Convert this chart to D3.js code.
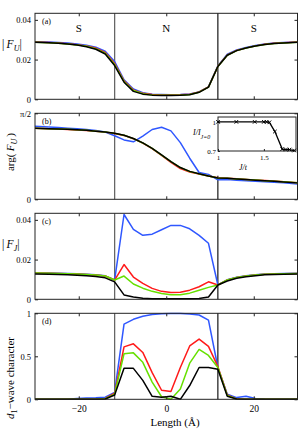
<!DOCTYPE html>
<html>
<head>
<meta charset="utf-8">
<script src="https://cdn.jsdelivr.net/npm/d3@7"></script>
<style>
  body { margin: 0; background: #fff; }
  text { font-family: "Liberation Serif", "DejaVu Serif", serif; fill: #000; }
</style>
</head>
<body>
<svg id="chart" width="304" height="434"></svg>
<script>
// site positions along the junction (Angstrom)
const sites = [-30, -26.82, -24.67, -22.53, -20.38, -18.24, -16.09, -13.95, -11.8, -9.65, -7.51, -5.36, -3.22, -1.07,
  1.07, 3.22, 5.36, 7.51, 9.65, 11.8, 13.95, 16.09, 18.24, 20.38, 22.53, 24.67, 26.82, 30];

// (a) |F_U|
const fuBlue  = [0.0290, 0.0288, 0.0286, 0.0283, 0.0278, 0.0272, 0.0262, 0.0242, 0.0190, 0.0098, 0.0052, 0.0033, 0.0026, 0.0024,
  0.0023, 0.0024, 0.0027, 0.0037, 0.0063, 0.0168, 0.0227, 0.0248, 0.0261, 0.0271, 0.0279, 0.0283, 0.0286, 0.0289];
const fuRed   = [0.0288, 0.0286, 0.0283, 0.0280, 0.0275, 0.0268, 0.0258, 0.0236, 0.0180, 0.0093, 0.0047, 0.0030, 0.0024, 0.0022,
  0.0022, 0.0023, 0.0026, 0.0037, 0.0062, 0.0166, 0.0223, 0.0246, 0.0259, 0.0269, 0.0277, 0.0282, 0.0285, 0.0288];
const fuGreen = [0.0287, 0.0285, 0.0282, 0.0279, 0.0274, 0.0267, 0.0255, 0.0232, 0.0175, 0.0090, 0.0044, 0.0028, 0.0022, 0.0020,
  0.0020, 0.0021, 0.0024, 0.0036, 0.0061, 0.0165, 0.0222, 0.0245, 0.0258, 0.0268, 0.0276, 0.0281, 0.0284, 0.0287];
const fuBlack = [0.0287, 0.0285, 0.0282, 0.0278, 0.0273, 0.0265, 0.0252, 0.0228, 0.0170, 0.0086, 0.0040, 0.0026, 0.0021, 0.0019,
  0.0019, 0.0020, 0.0023, 0.0035, 0.0061, 0.0165, 0.0222, 0.0245, 0.0258, 0.0268, 0.0276, 0.0281, 0.0284, 0.0287];

// (b) arg(F_U)
const argBlue  = [1.333, 1.32, 1.31, 1.30, 1.29, 1.275, 1.255, 1.23, 1.16, 1.085, 1.05, 1.155, 1.275, 1.315,
  1.25, 1.035, 0.75, 0.49, 0.455, 0.355, 0.36, 0.35, 0.34, 0.33, 0.32, 0.31, 0.30, 0.28];
const argRed   = [1.297, 1.287, 1.282, 1.277, 1.267, 1.257, 1.242, 1.227, 1.202, 1.167, 1.107, 1.027, 0.925, 0.80,
  0.675, 0.562, 0.497, 0.46, 0.425, 0.392, 0.386, 0.375, 0.363, 0.353, 0.343, 0.333, 0.321, 0.303];
const argGreen = [1.299, 1.289, 1.284, 1.279, 1.269, 1.259, 1.244, 1.229, 1.204, 1.169, 1.109, 1.029, 0.929, 0.808,
  0.688, 0.578, 0.508, 0.464, 0.425, 0.39, 0.384, 0.373, 0.361, 0.351, 0.341, 0.331, 0.319, 0.301];
const argBlack = [1.30, 1.29, 1.285, 1.28, 1.27, 1.26, 1.245, 1.23, 1.205, 1.17, 1.11, 1.03, 0.93, 0.81,
  0.69, 0.58, 0.51, 0.465, 0.425, 0.39, 0.383, 0.372, 0.36, 0.35, 0.34, 0.33, 0.318, 0.30];

// (c) |F_J|
const fjBlue  = [0.0133, 0.0132, 0.0131, 0.0130, 0.0129, 0.0126, 0.0123, 0.0118, 0.0097, 0.0427, 0.0352, 0.0322, 0.0328, 0.0350,
  0.0372, 0.0372, 0.0355, 0.0322, 0.0282, 0.0072, 0.0098, 0.0111, 0.0118, 0.0123, 0.0127, 0.0129, 0.0130, 0.0131];
const fjRed   = [0.0132, 0.0131, 0.0130, 0.0129, 0.0128, 0.0125, 0.0122, 0.0117, 0.0097, 0.0175, 0.0112, 0.0080, 0.0055, 0.0040,
  0.0034, 0.0035, 0.0046, 0.0063, 0.0088, 0.0072, 0.0097, 0.0110, 0.0117, 0.0122, 0.0126, 0.0128, 0.0129, 0.0130];
const fjGreen = [0.0132, 0.0131, 0.0130, 0.0129, 0.0128, 0.0125, 0.0122, 0.0117, 0.0097, 0.0117, 0.0077, 0.0056, 0.0040, 0.0029,
  0.0023, 0.0023, 0.0031, 0.0046, 0.0060, 0.0072, 0.0097, 0.0110, 0.0117, 0.0122, 0.0126, 0.0128, 0.0129, 0.0130];
const fjBlack = [0.0127, 0.0126, 0.0125, 0.0123, 0.0121, 0.0118, 0.0115, 0.0108, 0.0088, 0.0022, 0.0012, 0.0005, 0.0003, 0.0003,
  0.0003, 0.0003, 0.0003, 0.0004, 0.0012, 0.0072, 0.0092, 0.0106, 0.0114, 0.0119, 0.0123, 0.0125, 0.0126, 0.0128];

// (d) d1-wave character
const d1Blue  = [0, 0, 0, 0.002, 0.008, 0.015, 0.018, 0.025, 0.08, 0.875, 0.93, 0.965, 0.985, 0.995,
  0.998, 0.997, 0.993, 0.98, 0.92, 0.37, 0.06, 0.02, 0.035, 0.01, 0.003, 0, 0, 0];
const d1Red   = [0, 0, 0, 0, 0, 0, 0.002, 0.01, 0.07, 0.61, 0.645, 0.545, 0.31, 0.105,
  0.09, 0.37, 0.62, 0.70, 0.615, 0.38, 0.05, 0.005, 0, 0, 0, 0, 0, 0];
const d1Green = [0, 0, 0, 0, 0, 0, 0.001, 0.006, 0.06, 0.53, 0.54, 0.43, 0.20, 0.03,
  0.0, 0.12, 0.42, 0.58, 0.51, 0.37, 0.045, 0.004, 0, 0, 0, 0, 0, 0];
const d1Black = [0, 0, 0, 0, 0, 0, 0, 0.003, 0.05, 0.36, 0.36, 0.22, 0.035, 0.025,
  0.035, 0.0, 0.16, 0.37, 0.37, 0.35, 0.035, 0.003, 0, 0, 0, 0, 0, 0];

// inset: current vs J/t
const insetJ = [1.0, 1.2, 1.4, 1.5, 1.53, 1.56, 1.62, 1.7, 1.74, 1.78, 1.83];
const insetI = [1.0, 1.0, 1.0, 1.0, 1.0, 0.995, 0.9, 0.72, 0.715, 0.715, 0.705];

const interfaces = [-11.8, 11.8];
const regionNames = ["S", "N", "S"];
const regionPos = [-20, 0, 20];
const xTicks = [-20, 0, 20];
const colors = ["#2f57ff", "#ff1a1a", "#66e000", "#000000"];

const svg = d3.select("#chart");
const x = d3.scaleLinear().domain([-30, 30]).range([35, 297.5]);
const panelH = 86;

const panels = [
  { top: 13.3, domain: [0, 0.0433], ticks: [0, 0.02, 0.04], fmt: d => d === 0 ? "0" : d.toFixed(2),
    series: [fuBlue, fuRed, fuGreen, fuBlack], tag: "(a)" },
  { top: 113.3, domain: [0, Math.PI / 2], ticks: [0, Math.PI / 2], fmt: d => d === 0 ? "0" : "\u03c0/2",
    series: [argBlue, argRed, argGreen, argBlack], tag: "(b)", rightLineTop: 0.43 },
  { top: 213.3, domain: [0, 0.0433], ticks: [0, 0.02, 0.04], fmt: d => d === 0 ? "0" : d.toFixed(2),
    series: [fjBlue, fjRed, fjGreen, fjBlack], tag: "(c)" },
  { top: 313.3, domain: [0, 1], ticks: [0, 0.5, 1], fmt: d => d3.format("~g")(d),
    series: [d1Blue, d1Red, d1Green, d1Black], tag: "(d)" }
];

panels.forEach((p, pi) => {
  const y = d3.scaleLinear().domain(p.domain).range([p.top + panelH, p.top]);
  const g = svg.append("g").attr("class", "panel");

  // interface lines
  g.append("line")
    .attr("x1", x(interfaces[0])).attr("x2", x(interfaces[0]))
    .attr("y1", p.top).attr("y2", p.top + panelH)
    .attr("stroke", "#666").attr("stroke-width", 1.3);
  g.append("line")
    .attr("x1", x(interfaces[1])).attr("x2", x(interfaces[1]))
    .attr("y1", p.rightLineTop ? y(p.rightLineTop) : p.top).attr("y2", p.top + panelH)
    .attr("stroke", "#000").attr("stroke-width", 1.1);

  const line = d3.line().x((d, i) => x(sites[i])).y(d => y(d));
  p.series.forEach((s, si) => {
    g.append("path")
      .datum(s)
      .attr("d", line)
      .attr("fill", "none")
      .attr("stroke", colors[si])
      .attr("stroke-width", 1.5)
      .attr("stroke-linejoin", "round");
  });

  // axes with inward ticks
  const axL = g.append("g").attr("transform", `translate(${x.range()[0]},0)`)
    .call(d3.axisLeft(y).tickValues(p.ticks).tickSizeInner(-3).tickSizeOuter(0).tickPadding(4).tickFormat(p.fmt));
  const axR = g.append("g").attr("transform", `translate(${x.range()[1]},0)`)
    .call(d3.axisRight(y).tickValues(p.ticks).tickSizeInner(-3).tickSizeOuter(0).tickFormat(""));
  const axT = g.append("g").attr("transform", `translate(0,${p.top})`)
    .call(d3.axisTop(x).tickValues(xTicks).tickSizeInner(-3).tickSizeOuter(0).tickFormat(""));
  const axB = g.append("g").attr("transform", `translate(0,${p.top + panelH})`)
    .call(d3.axisBottom(x).tickValues(xTicks).tickSizeInner(-3).tickSizeOuter(0).tickPadding(6)
      .tickFormat(pi === 3 ? (d => d < 0 ? "\u2212" + Math.abs(d) : d) : ""));
  [axL, axR, axT, axB].forEach(a => {
    a.select(".domain").remove();
    a.selectAll("line").attr("stroke", "#222");
    a.selectAll("text").attr("font-size", pi === 3 && a === axB ? 9.5 : 8.5)
      .attr("font-family", "Liberation Serif, serif");
  });

  g.append("rect")
    .attr("x", x.range()[0]).attr("y", p.top)
    .attr("width", x.range()[1] - x.range()[0]).attr("height", panelH)
    .attr("fill", "none").attr("stroke", "#222").attr("stroke-width", 1);

  g.append("text").attr("x", 42).attr("y", p.top + 11).attr("font-size", 8).text(p.tag);
});

// region labels in (a)
regionNames.forEach((n, i) => {
  svg.append("text").attr("x", x(regionPos[i])).attr("y", panels[0].top + 19).attr("text-anchor", "middle")
    .attr("font-size", 11).text(n);
});

// y labels
function absLabel(yPos, sub) {
  const t = svg.append("text").attr("x", 2).attr("y", yPos).attr("font-size", 11.5);
  t.append("tspan").text("|\u2009");
  t.append("tspan").attr("font-style", "italic").text("F");
  t.append("tspan").attr("font-style", "italic").attr("font-size", 8).attr("dy", 3).text(sub);
  t.append("tspan").attr("dy", -3).text("|");
}
absLabel(48, "U");
absLabel(248, "J");

const argT = svg.append("text").attr("transform", "translate(14,152) rotate(-90)")
  .attr("text-anchor", "middle").attr("font-size", 11);
argT.append("tspan").text("arg(\u2009");
argT.append("tspan").attr("font-style", "italic").text("F");
argT.append("tspan").attr("font-style", "italic").attr("font-size", 8).attr("dy", 3).text("U");
argT.append("tspan").attr("dy", -3).text("\u2009)");

const dT = svg.append("text").attr("transform", "translate(14,378) rotate(-90)")
  .attr("text-anchor", "middle").attr("font-size", 11);
dT.append("tspan").attr("font-style", "italic").text("d");
dT.append("tspan").attr("font-size", 8).attr("dy", 3).text("1");
dT.append("tspan").attr("dy", -3).text("\u2212wave character");

svg.append("text").attr("x", 175).attr("y", 426).attr("text-anchor", "middle")
  .attr("font-size", 11).text("Length (\u00c5)");

// inset in (b)
const ix = d3.scaleLinear().domain([1, 1.85]).range([218, 296]);
const iy = d3.scaleLinear().domain([0.7, 1.05]).range([151, 117]);
const inset = svg.append("g");
inset.append("rect").attr("x", 218).attr("y", 117).attr("width", 78).attr("height", 34)
  .attr("fill", "#fff").attr("stroke", "none");
const iL = inset.append("g").attr("transform", "translate(218,0)")
  .call(d3.axisLeft(iy).tickValues([0.7, 1]).tickSizeInner(-2).tickSizeOuter(0).tickPadding(2)
    .tickFormat(d => d3.format("~g")(d)));
const iB = inset.append("g").attr("transform", "translate(0,151)")
  .call(d3.axisBottom(ix).tickValues([1, 1.5]).tickSizeInner(-2).tickSizeOuter(0).tickPadding(4)
    .tickFormat(d => d3.format("~g")(d)));
[iL, iB].forEach(a => {
  a.select(".domain").remove();
  a.selectAll("line").attr("stroke", "#222");
  a.selectAll("text").attr("font-size", 7).attr("font-family", "Liberation Serif, serif");
});
inset.append("rect").attr("x", 218).attr("y", 117).attr("width", 78).attr("height", 34)
  .attr("fill", "none").attr("stroke", "#222").attr("stroke-width", 1);
inset.append("path").datum(insetI)
  .attr("d", d3.line().x((d, i) => ix(insetJ[i])).y(d => iy(d)))
  .attr("fill", "none").attr("stroke", "#000").attr("stroke-width", 1.3);
const cross = d3.symbol().type(d3.symbolTimes).size(10);
inset.selectAll(".mk").data(insetI).enter().append("path")
  .attr("class", "mk")
  .attr("transform", (d, i) => `translate(${ix(insetJ[i])},${iy(d)})`)
  .attr("d", cross).attr("fill", "none").attr("stroke", "#000").attr("stroke-width", 1);

const iyLab = svg.append("text").attr("x", 193).attr("y", 135).attr("font-size", 8);
iyLab.append("tspan").attr("font-style", "italic").text("I/I");
iyLab.append("tspan").attr("font-style", "italic").attr("font-size", 6).attr("dy", 4).text("J=0");
svg.append("text").attr("x", 243).attr("y", 170).attr("text-anchor", "middle")
  .attr("font-size", 8).attr("font-style", "italic").text("J/t");
</script>
</body>
</html>
